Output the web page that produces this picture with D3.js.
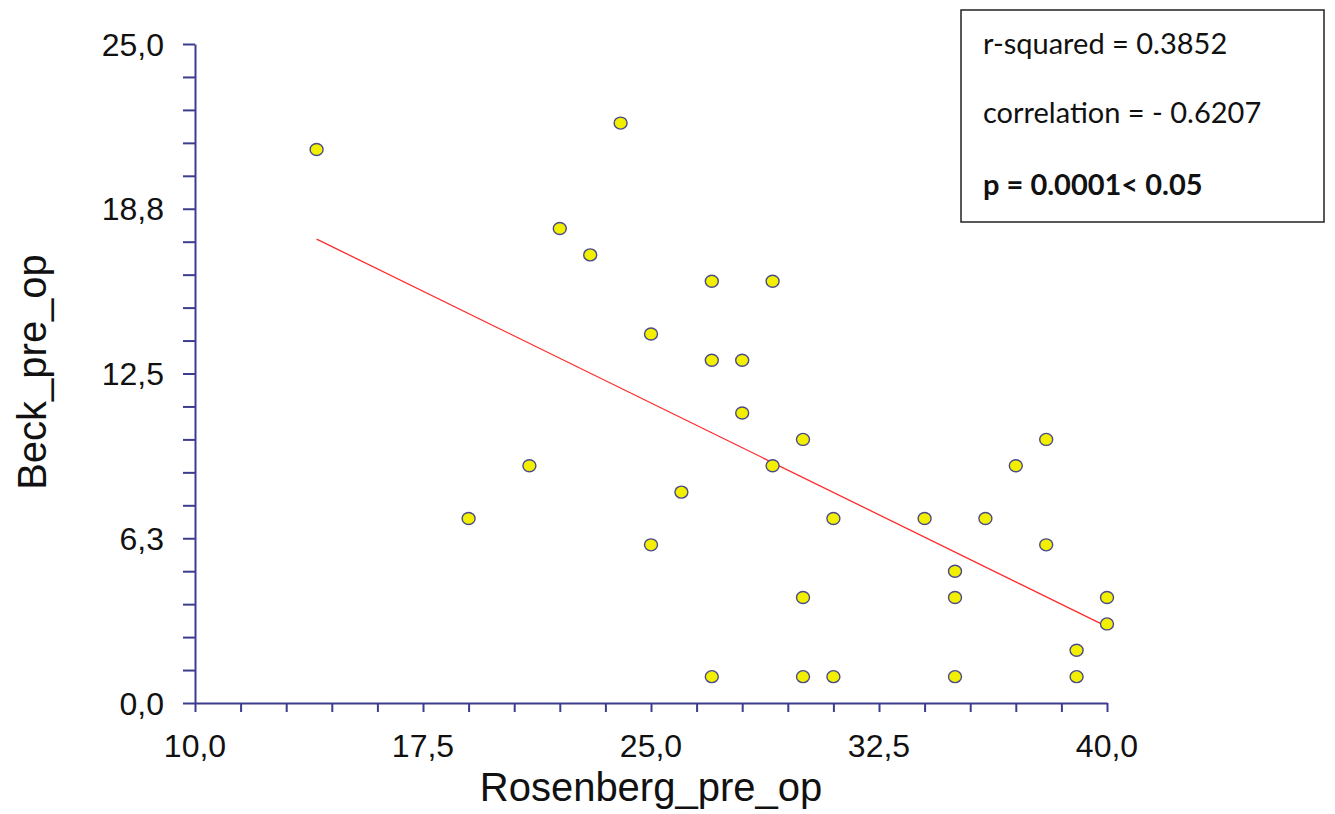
<!DOCTYPE html>
<html>
<head>
<meta charset="utf-8">
<script src="https://cdn.jsdelivr.net/npm/d3@7"></script>
<style>
  html, body { margin: 0; padding: 0; background: #fff; }
  svg { display: block; }
</style>
</head>
<body>
<svg id="chart" width="1335" height="814"></svg>
<script>
// ---- Data ----
const rosenberg = [14, 24, 22, 23, 27, 29, 25, 27, 28, 28, 30, 38, 21, 29, 37, 26, 19, 31, 34, 36, 25, 38, 35, 30, 35, 40, 40, 39, 27, 30, 31, 35, 39];
const beck      = [21, 22, 18, 17, 16, 16, 14, 13, 13, 11, 10, 10,  9,  9,  9,  8,  7,  7,  7,  7,  6,  6,  5,  4,  4,  4,  3,  2,  1,  1,  1,  1,  1];
const fitX = [14, 40];
const fitY = [17.6, 2.9];
const xTickLabels = ["10,0", "17,5", "25,0", "32,5", "40,0"];
const xTickLabelValues = [10, 17.5, 25, 32.5, 40];
const yTickLabels = ["0,0", "6,3", "12,5", "18,8", "25,0"];
const yTickLabelValues = [0, 6.25, 12.5, 18.75, 25];
const statsLines = ["r-squared = 0.3852", "correlation = - 0.6207", "p = 0.0001< 0.05"];
const xTitle = "Rosenberg_pre_op";
const yTitle = "Beck_pre_op";

// ---- Layout ----
const svg = d3.select("#chart");
const axisColor = "#3d3d8f";
const x = d3.scaleLinear().domain([10, 40]).range([195, 1107]);
const y = d3.scaleLinear().domain([0, 25]).range([703, 44]);

const xMinor = d3.range(0, 21).map(i => 10 + i * 1.5);
const yMinor = d3.range(0, 21).map(i => i * 1.25);

// X axis
const gx = svg.append("g").attr("transform", `translate(0,${y(0)})`)
  .call(d3.axisBottom(x).tickValues(xMinor).tickSize(9).tickSizeOuter(0).tickFormat(""));
gx.select(".domain").attr("stroke", axisColor).attr("stroke-width", 2);
gx.selectAll(".tick line").attr("stroke", axisColor).attr("stroke-width", 2);

// Y axis
const gy = svg.append("g").attr("transform", `translate(${x(10)},0)`)
  .call(d3.axisLeft(y).tickValues(yMinor).tickSize(12).tickSizeOuter(0).tickFormat(""));
gy.select(".domain").attr("stroke", axisColor).attr("stroke-width", 2);
gy.selectAll(".tick line").attr("stroke", axisColor).attr("stroke-width", 2);

// Tick labels
svg.append("g").selectAll("text").data(xTickLabelValues).join("text")
  .attr("x", d => x(d)).attr("y", 757)
  .attr("text-anchor", "middle")
  .attr("font-family", "Liberation Sans, Arial, sans-serif")
  .attr("font-size", 32).attr("fill", "#111")
  .text((d, i) => xTickLabels[i]);

svg.append("g").selectAll("text").data(yTickLabelValues).join("text")
  .attr("x", 164).attr("y", d => y(d) + 11.5)
  .attr("text-anchor", "end")
  .attr("font-family", "Liberation Sans, Arial, sans-serif")
  .attr("font-size", 32).attr("fill", "#111")
  .text((d, i) => yTickLabels[i]);

// Axis titles
svg.append("text")
  .attr("x", 651).attr("y", 801)
  .attr("text-anchor", "middle")
  .attr("font-family", "Liberation Sans, Arial, sans-serif")
  .attr("font-size", 40).attr("fill", "#111")
  .text(xTitle);

svg.append("text")
  .attr("transform", `translate(46,372) rotate(-90)`)
  .attr("text-anchor", "middle")
  .attr("font-family", "Liberation Sans, Arial, sans-serif")
  .attr("font-size", 40).attr("fill", "#111")
  .text(yTitle);

// Regression line
svg.append("path")
  .datum(fitX.map((d, i) => [d, fitY[i]]))
  .attr("fill", "none").attr("stroke", "#ff2a2a").attr("stroke-width", 1.3)
  .attr("d", d3.line().x(d => x(d[0])).y(d => y(d[1])));

// Points
svg.append("g").selectAll("ellipse").data(rosenberg.map((d, i) => [d, beck[i]])).join("ellipse")
  .attr("cx", d => x(d[0])).attr("cy", d => y(d[1]))
  .attr("rx", 6.5).attr("ry", 6)
  .attr("fill", "#f2ef00").attr("stroke", "#4a4a8a").attr("stroke-width", 1.4);

// Stats box
svg.append("rect")
  .attr("x", 961).attr("y", 10).attr("width", 363).attr("height", 212)
  .attr("fill", "#fff").attr("stroke", "#222").attr("stroke-width", 1.5);

const baselines = [54, 123, 195];
svg.append("g").selectAll("text").data(statsLines).join("text")
  .attr("x", 983).attr("y", (d, i) => baselines[i])
  .attr("font-family", "Lato, 'Open Sans', sans-serif")
  .attr("font-size", 29).attr("fill", "#111")
  .attr("font-weight", (d, i) => i === 2 ? "bold" : "normal")
  .text(d => d);
</script>
</body>
</html>
